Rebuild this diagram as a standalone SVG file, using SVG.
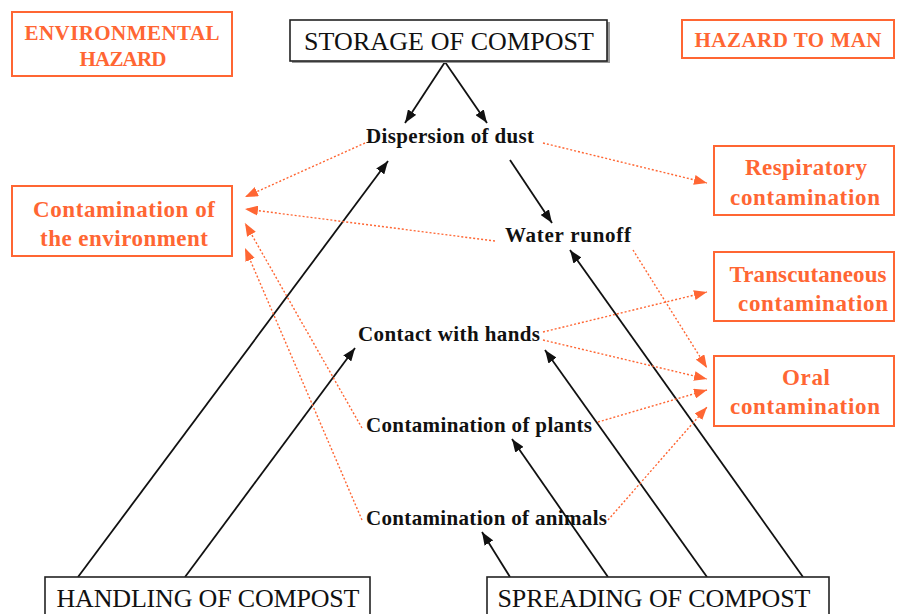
<svg xmlns="http://www.w3.org/2000/svg" width="902" height="614" viewBox="0 0 902 614">
  <style>
    .obox { fill: #ffffff; stroke: #ff6633; stroke-width: 2; }
    .bbox { fill: #ffffff; stroke: #222222; stroke-width: 1.6; }
    .otxt { font-family: "Liberation Serif", "Times New Roman", serif; font-weight: bold; fill: #ff6633; text-anchor: middle; }
    .btxt { font-family: "Liberation Serif", "Times New Roman", serif; fill: #111111; text-anchor: middle; font-size: 26px; }
    .lbl { font-family: "Liberation Serif", "Times New Roman", serif; font-weight: bold; fill: #111111; font-size: 21px; }
    .blk { stroke: #111111; stroke-width: 1.8; fill: none; marker-end: url(#ab); }
    .org { stroke: #ff6633; stroke-width: 1.4; fill: none; stroke-dasharray: 2 2; marker-end: url(#ao); }
  </style>
  <defs>
    <marker id="ab" markerUnits="userSpaceOnUse" markerWidth="14" markerHeight="10" refX="13" refY="5" orient="auto">
      <path d="M0,0 L13,5 L0,10 z" fill="#111111"/>
    </marker>
    <marker id="ao" markerUnits="userSpaceOnUse" markerWidth="14" markerHeight="10" refX="13" refY="5" orient="auto">
      <path d="M0,0 L13,5 L0,10 z" fill="#ff6633"/>
    </marker>
  </defs>
  <rect width="902" height="614" fill="#ffffff"/>

  <g id="connectors">
    <line class="blk" x1="445" y1="62" x2="405" y2="123"/>
    <line class="blk" x1="445" y1="62" x2="487" y2="123"/>
    <line class="blk" x1="510" y1="160" x2="552" y2="223"/>
    <line class="blk" x1="78" y1="577" x2="388" y2="161"/>
    <line class="blk" x1="185" y1="577" x2="355" y2="348"/>
    <line class="blk" x1="510" y1="577" x2="482" y2="532"/>
    <line class="blk" x1="608" y1="577" x2="512" y2="439"/>
    <line class="blk" x1="707" y1="577" x2="545" y2="350"/>
    <line class="blk" x1="803" y1="577" x2="570" y2="250"/>

    <line class="org" x1="365" y1="143" x2="245" y2="197"/>
    <line class="org" x1="495" y1="241" x2="245" y2="209"/>
    <line class="org" x1="362" y1="428" x2="245" y2="223"/>
    <line class="org" x1="362" y1="520" x2="245" y2="248"/>
    <line class="org" x1="543" y1="143" x2="707" y2="183"/>
    <line class="org" x1="633" y1="250" x2="707" y2="368"/>
    <line class="org" x1="543" y1="332" x2="707" y2="292"/>
    <line class="org" x1="543" y1="340" x2="707" y2="379"/>
    <line class="org" x1="598" y1="422" x2="707" y2="390"/>
    <line class="org" x1="608" y1="520" x2="707" y2="407"/>
  </g>

  <g id="environmental-hazard">
    <rect class="obox" x="12" y="12" width="220" height="64"/>
    <text class="otxt" x="122" y="40" font-size="21" textLength="195">ENVIRONMENTAL</text>
    <text class="otxt" x="123" y="66" font-size="21" textLength="87">HAZARD</text>
  </g>

  <g id="storage">
    <rect x="292" y="22" width="318" height="41" fill="#999999"/>
    <rect class="bbox" x="290" y="20" width="317" height="41"/>
    <text class="btxt" x="449" y="50" textLength="290">STORAGE OF COMPOST</text>
  </g>

  <g id="hazard-to-man">
    <rect class="obox" x="682" y="20" width="212" height="38"/>
    <text class="otxt" x="788" y="47" font-size="21" textLength="187">HAZARD TO MAN</text>
  </g>

  <g id="contamination-environment">
    <rect class="obox" x="12" y="186" width="220" height="70"/>
    <text class="otxt" x="124" y="217" font-size="23" textLength="182">Contamination of</text>
    <text class="otxt" x="124" y="246" font-size="23" textLength="168">the environment</text>
  </g>

  <g id="respiratory">
    <rect class="obox" x="714" y="146" width="180" height="69"/>
    <text class="otxt" x="806" y="175" font-size="23" textLength="122">Respiratory</text>
    <text class="otxt" x="805" y="205" font-size="23" textLength="150">contamination</text>
  </g>

  <g id="transcutaneous">
    <rect class="obox" x="714" y="252" width="180" height="69"/>
    <text class="otxt" x="808" y="282" font-size="23" textLength="157">Transcutaneous</text>
    <text class="otxt" x="813" y="311" font-size="23" textLength="150">contamination</text>
  </g>

  <g id="oral">
    <rect class="obox" x="714" y="356" width="180" height="70"/>
    <text class="otxt" x="806" y="385" font-size="23" textLength="48">Oral</text>
    <text class="otxt" x="805" y="414" font-size="23" textLength="150">contamination</text>
  </g>

  <g id="dispersion-of-dust">
    <text class="lbl" x="366" y="143" textLength="168">Dispersion of dust</text>
  </g>
  <g id="water-runoff">
    <text class="lbl" x="505" y="242" textLength="126">Water runoff</text>
  </g>
  <g id="contact-with-hands">
    <text class="lbl" x="358" y="341" textLength="182">Contact with hands</text>
  </g>
  <g id="contamination-plants">
    <text class="lbl" x="366" y="432" textLength="226">Contamination of plants</text>
  </g>
  <g id="contamination-animals">
    <text class="lbl" x="366" y="525" textLength="241">Contamination of animals</text>
  </g>

  <g id="handling">
    <rect class="bbox" x="45" y="577" width="325" height="50"/>
    <text class="btxt" x="208" y="607" textLength="303">HANDLING OF COMPOST</text>
  </g>

  <g id="spreading">
    <rect class="bbox" x="487" y="577" width="342" height="50"/>
    <text class="btxt" x="654" y="607" textLength="313">SPREADING OF COMPOST</text>
  </g>
</svg>
